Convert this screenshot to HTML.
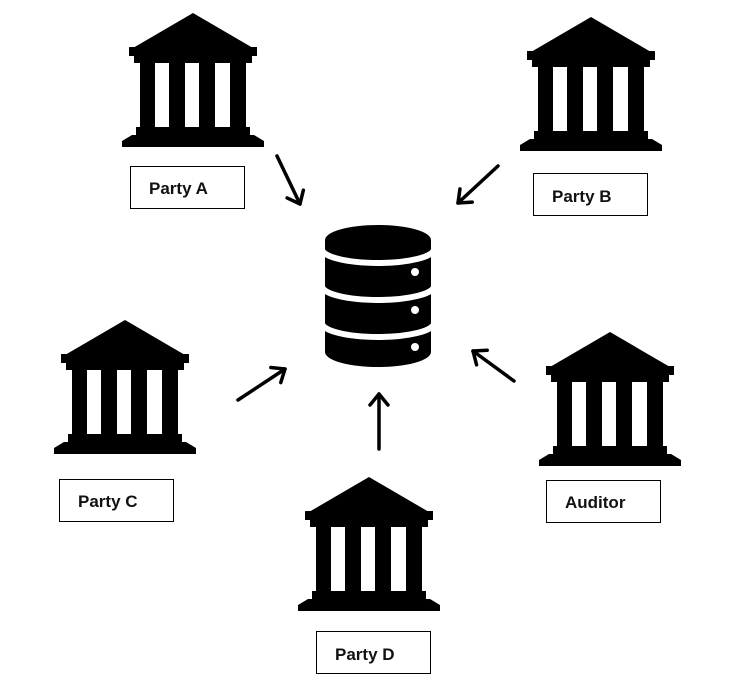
<!DOCTYPE html>
<html><head><meta charset="utf-8"><style>
html,body{margin:0;padding:0;background:#fff;}
svg{display:block;}
text{font-family:"Liberation Sans",Arial,sans-serif;font-weight:bold;font-size:17px;fill:#111;}
</style></head><body>
<svg width="730" height="689" viewBox="0 0 730 689" xmlns="http://www.w3.org/2000/svg">
<defs>
<g id="bank">
<path d="M71 0 L131 35 L11 35 Z" fill="#000"/>
<rect x="7" y="34" width="128" height="9" fill="#000"/>
<rect x="12" y="42" width="118" height="8" fill="#000"/>
<path d="M18 49 H124 V115 H18 Z M33 49 V114 H47 V49 Z M63 49 V114 H77 V49 Z M93 49 V114 H108 V49 Z" fill="#000" fill-rule="evenodd"/>
<rect x="14" y="114" width="114" height="9" fill="#000"/>
<path d="M10 122 H132 L142 128 V134 H0 V128 Z" fill="#000"/>
</g>
<marker id="ah" markerWidth="24" markerHeight="24" refX="16" refY="12" orient="auto" markerUnits="userSpaceOnUse">
<path d="M5 3 L16 12 L5 21" fill="none" stroke="#000" stroke-width="3.5" stroke-linecap="round" stroke-linejoin="round"/>
</marker>
</defs>

<use href="#bank" x="122" y="13"/>
<use href="#bank" x="520" y="17"/>
<use href="#bank" x="54" y="320"/>
<use href="#bank" x="539" y="332"/>
<use href="#bank" x="298" y="477"/>

<g fill="#fff" stroke="#000" stroke-width="1">
<rect x="130.5" y="166.5" width="114" height="42"/>
<rect x="533.5" y="173.5" width="114" height="42"/>
<rect x="59.5" y="479.5" width="114" height="42"/>
<rect x="546.5" y="480.5" width="114" height="42"/>
<rect x="316.5" y="631.5" width="114" height="42"/>
</g>
<text x="149" y="194">Party A</text>
<text x="552" y="202">Party B</text>
<text x="78" y="507">Party C</text>
<text x="565" y="508">Auditor</text>
<text x="335" y="660">Party D</text>

<!-- database -->
<path d="M325 240 V352 A53 15 0 0 0 431 352 V240 Z" fill="#000"/>
<ellipse cx="378" cy="240" rx="53" ry="15" fill="#000"/>
<g fill="none" stroke="#fff" stroke-width="6">
<path d="M322 249 A56 14 0 0 0 434 249"/>
<path d="M322 286 A56 14 0 0 0 434 286"/>
<path d="M322 323 A56 14 0 0 0 434 323"/>
</g>
<g fill="#fff">
<circle cx="415" cy="272" r="4"/>
<circle cx="415" cy="310" r="4"/>
<circle cx="415" cy="347" r="4"/>
</g>

<g stroke="#000" stroke-width="3.5" stroke-linecap="round" fill="none" marker-end="url(#ah)">
<line x1="277" y1="156" x2="300" y2="204"/>
<line x1="498" y1="166" x2="458" y2="203"/>
<line x1="238" y1="400" x2="285" y2="369"/>
<line x1="379" y1="449" x2="379" y2="394"/>
<line x1="514" y1="381" x2="473" y2="351"/>
</g>
</svg>
</body></html>
